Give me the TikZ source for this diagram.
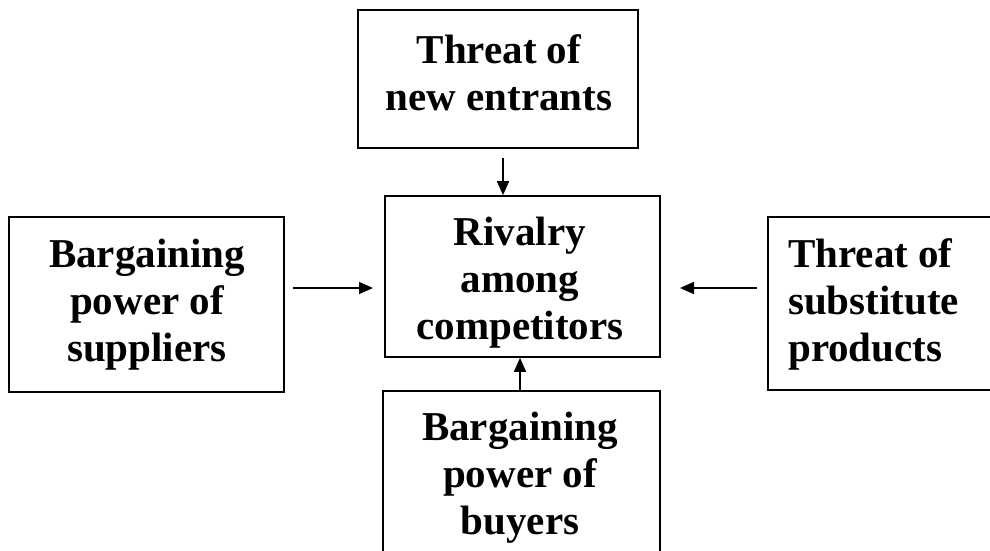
\documentclass[tikz,border=0pt]{standalone}
\usepackage{fontspec}
\setmainfont{Liberation Serif}
\usetikzlibrary{arrows.meta}
\begin{document}
\begin{tikzpicture}[x=1pt,y=-1pt,
  box/.style={draw, line width=1.6pt, rectangle, inner sep=0pt},
  lbl/.style={font=\bfseries\fontsize{41}{47}\selectfont, inner sep=0pt},
  arr/.style={line width=1.6pt, -{Triangle[length=14pt,width=12pt]}}]
\useasboundingbox (0,0) rectangle (990,551);
\clip (0,0) rectangle (990,551);
% boxes
\node[box, minimum width=280pt, minimum height=138pt] (top) at (498,79) {};
\node[box, minimum width=275pt, minimum height=175pt] (sup) at (146.5,304.5) {};
\node[box, minimum width=275pt, minimum height=161pt] (mid) at (522.5,276.5) {};
\node[box, minimum width=232pt, minimum height=173pt] (sub) at (884,303.5) {};
\node[box, minimum width=277pt, minimum height=179pt] (buy) at (521.5,480.5) {};
% texts (anchor base = baseline of last line)
\node[lbl, align=center, anchor=base] (ttop) at (499,110) {Threat of\\new entrants};
\node[lbl, align=center, anchor=base] (tsup) at (147,361) {Bargaining\\power of\\suppliers};
\node[lbl, align=center, anchor=base] (tmid) at (520,339) {Rivalry\\among\\competitors};
\node[lbl, align=left, anchor=base west] (tsub) at (788,361) {Threat of\\substitute\\products};
\node[lbl, align=center, anchor=base] (tbuy) at (520,534) {Bargaining\\power of\\buyers};
% connectors
\coordinate (a1) at (503,158);
\coordinate (a2s) at (293,288);
\coordinate (a2e) at (373,288);
\coordinate (a3s) at (757,288);
\coordinate (a3e) at (680,288);
\coordinate (a4) at (520,0);
\draw[arr] (a1) -- (a1 |- mid.north);
\draw[arr] (a2s) -- (a2e);
\draw[arr] (a3s) -- (a3e);
\draw[arr] (buy.north -| a4) -- (mid.south -| a4);
\end{tikzpicture}
\end{document}
